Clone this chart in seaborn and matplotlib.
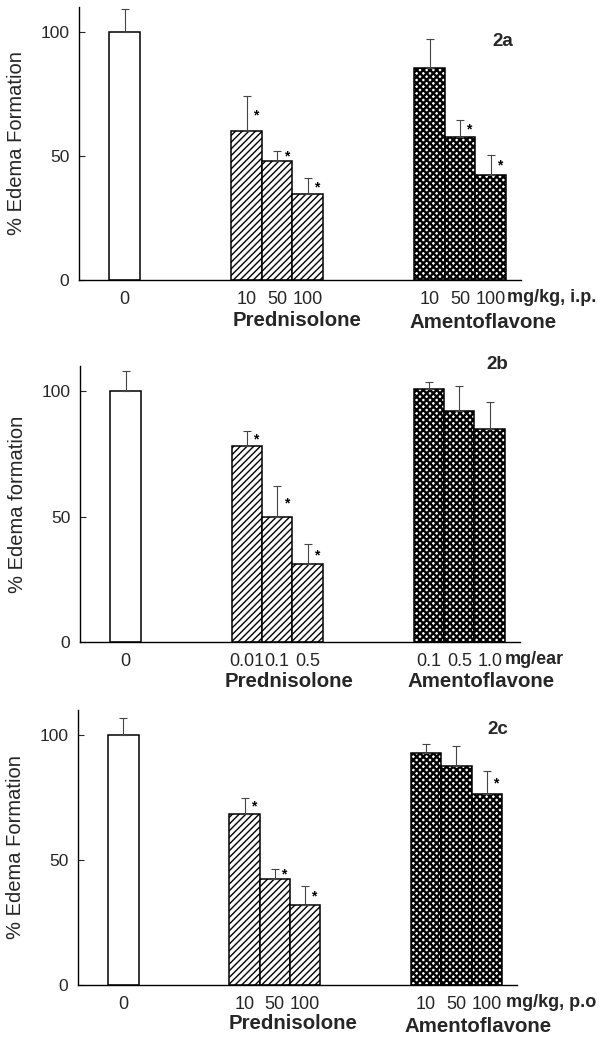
import numpy as np
import pandas as pd
import matplotlib
matplotlib.use("Agg")
import matplotlib.pyplot as plt
import matplotlib.transforms as mtransforms
import seaborn as sns

# ---------------- data ----------------
positions = [0, 4, 5, 6, 10, 11, 12]
groups = ["Control", "Prednisolone", "Prednisolone", "Prednisolone",
          "Amentoflavone", "Amentoflavone", "Amentoflavone"]

a_values = [100, 60, 48, 34.5, 85.5, 57.5, 42.5]
a_errors = [9, 14, 4, 6.5, 11.5, 7, 8]
a_stars = [0, 1, 1, 1, 0, 1, 1]
a_doses = ["0", "10", "50", "100", "10", "50", "100"]
a_unit = "mg/kg, i.p."
a_ylabel = "% Edema Formation"
a_tag = "2a"

b_values = [100, 78, 50, 31, 101, 92, 85]
b_errors = [8, 6, 12, 8, 2.5, 10, 10.5]
b_stars = [0, 1, 1, 1, 0, 0, 0]
b_doses = ["0", "0.01", "0.1", "0.5", "0.1", "0.5", "1.0"]
b_unit = "mg/ear"
b_ylabel = "% Edema formation"
b_tag = "2b"

c_values = [100, 68.5, 42.5, 32, 93, 87.5, 76.5]
c_errors = [7, 6.5, 4, 7.5, 3.5, 8, 9]
c_stars = [0, 1, 1, 1, 0, 0, 1]
c_doses = ["0", "10", "50", "100", "10", "50", "100"]
c_unit = "mg/kg, p.o"
c_ylabel = "% Edema Formation"
c_tag = "2c"

yticks = [0, 50, 100]
hue_order = ["Control", "Prednisolone", "Amentoflavone"]

# ---------------- style ----------------
sns.set_theme(style="ticks")
plt.rcParams["font.family"] = ["Liberation Sans", "DejaVu Sans"]
plt.rcParams["hatch.linewidth"] = 1.2
plt.rcParams["hatch.color"] = "black"

W, H = 603, 1039
fig = plt.figure(figsize=(W / 100, H / 100), dpi=100)

hatches = {"Control": "", "Prednisolone": "/////", "Amentoflavone": "xxxxx"}
hatch_lw = {"Control": 1.0, "Prednisolone": 1.0, "Amentoflavone": 1.7}


def panel(rect, values, errors, stars, doses, unit, ylabel, tag, tag_xy,
          unit_x, name_off, name_x):
    left, top, right, bottom = rect
    ax = fig.add_axes([left / W, 1 - bottom / H, (right - left) / W, (bottom - top) / H])
    df = pd.DataFrame({"pos": positions, "value": values, "group": groups})
    sns.barplot(data=df, x="pos", y="value", hue="group", hue_order=hue_order,
                palette={g: "white" for g in hue_order}, native_scale=True,
                dodge=False, width=1.0, errorbar=None, edgecolor="black",
                linewidth=1.1, legend=False, ax=ax, zorder=2)
    for p in ax.patches:
        cx = p.get_x() + p.get_width() / 2
        i = int(np.argmin([abs(cx - q) for q in positions]))
        g = groups[i]
        p.set_hatch(hatches[g])
        p.set_edgecolor("black")
        if hasattr(p, "set_hatch_linewidth"):
            p.set_hatch_linewidth(hatch_lw[g])
    ax.errorbar(positions, values, yerr=[np.zeros(len(values)), errors],
                fmt="none", ecolor="#444444", elinewidth=0.8, capsize=3,
                capthick=0.8, zorder=3)
    for x, v, e, s in zip(positions, values, errors, stars):
        if s:
            ax.text(x + 0.3, v + e * 0.45, "*", ha="center", va="center",
                    fontsize=10, fontweight="bold", color="black")
    ax.set_xlim(-1.5, 13)
    ax.set_ylim(0, 110)
    ax.set_yticks(yticks)
    ax.set_yticklabels([str(t) for t in yticks])
    ax.set_xticks(positions)
    ax.set_xticklabels(doses)
    ax.tick_params(axis="x", length=0, pad=8, labelsize=13)
    ax.tick_params(axis="y", length=4, width=0.8, pad=7, labelsize=12.5,
                   direction="in")
    ax.set_xlabel("")
    ax.set_ylabel(ylabel, fontsize=14.5)
    ax.yaxis.set_label_coords(-0.12, 0.5)
    for sp in ["top", "right"]:
        ax.spines[sp].set_visible(False)
    for sp in ["left", "bottom"]:
        ax.spines[sp].set_linewidth(1.0)
        ax.spines[sp].set_color("black")
    trans = mtransforms.blended_transform_factory(ax.transData, ax.transAxes)
    ax.annotate(unit, xy=(unit_x, 0), xycoords=trans, xytext=(0, -12.5),
                textcoords="offset points", ha="left", va="center",
                fontsize=13, fontweight="bold", annotation_clip=False)
    ax.annotate("Prednisolone", xy=(name_x[0], 0), xycoords=trans,
                xytext=(0, -name_off[0]), textcoords="offset points",
                ha="center", va="center", fontsize=14.7, fontweight="bold",
                annotation_clip=False)
    ax.annotate("Amentoflavone", xy=(name_x[1], 0), xycoords=trans,
                xytext=(0, -name_off[1]), textcoords="offset points",
                ha="center", va="center", fontsize=14.7, fontweight="bold",
                annotation_clip=False)
    ax.text(tag_xy[0], tag_xy[1], tag, ha="center", va="center",
            fontsize=13.5, fontweight="bold")
    return ax


panel((79, 7, 521, 280), a_values, a_errors, a_stars, a_doses, a_unit,
      a_ylabel, a_tag, (12.4, 96), 12.55, (29, 30.5), (5.65, 11.75))
panel((80, 366, 520, 642), b_values, b_errors, b_stars, b_doses, b_unit,
      b_ylabel, b_tag, (12.25, 110.7), 12.5, (28.5, 28.5), (5.4, 11.7))
panel((78, 710, 517, 985), c_values, c_errors, c_stars, c_doses, c_unit,
      c_ylabel, c_tag, (12.35, 102), 12.65, (27.5, 30), (5.6, 11.7))

fig.savefig("out.png", dpi=100)
